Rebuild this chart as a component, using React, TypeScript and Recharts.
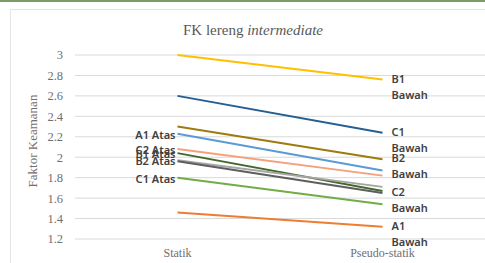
import React from "react";
import { LineChart, Line, XAxis, YAxis, CartesianGrid, Label } from "recharts";

const categories = ["Statik", "Pseudo-statik"];
const yTicks = [1.2, 1.4, 1.6, 1.8, 2, 2.2, 2.4, 2.6, 2.8, 3];

const seriesNames = [
  "B1 Bawah",
  "C1 Bawah",
  "B2 Bawah",
  "A1 Atas",
  "C2 Atas",
  "B1 Atas",
  "B2 Atas",
  "C2 Bawah",
  "C1 Atas",
  "A1 Bawah",
];
const statikValues = [3.0, 2.6, 2.3, 2.23, 2.08, 2.04, 1.97, 1.96, 1.8, 1.46];
const pseudoValues = [2.76, 2.24, 1.98, 1.87, 1.82, 1.67, 1.71, 1.65, 1.54, 1.32];
const seriesColors = [
  "#FFC000",
  "#255E91",
  "#9E7B0D",
  "#5B9BD5",
  "#F4A07A",
  "#43682B",
  "#A5A5A5",
  "#5E5E5E",
  "#70AD47",
  "#ED7D31",
];

const data = categories.map((c, i) => {
  const row: Record<string, any> = { name: c };
  seriesNames.forEach((s, k) => {
    row[s] = i === 0 ? statikValues[k] : pseudoValues[k];
  });
  return row;
});

const labelFont = {
  fontFamily: "'Noto Sans', sans-serif",
  fontSize: 11,
  fontWeight: 600,
  fill: "#404040",
};

const makeLabel = (name: string) => (props: any) => {
  const { x, y, index } = props;
  const isLeft = name.includes("Atas");
  if (isLeft && index === 0) {
    return (
      <text
        key={`l-${name}`}
        x={x - 2}
        y={y + 2}
        textAnchor="end"
        dominantBaseline="middle"
        {...labelFont}
      >
        {name}
      </text>
    );
  }
  if (!isLeft && index === 1) {
    const parts = name.split(" ");
    return (
      <text key={`r-${name}`} x={x + 9} y={y} dominantBaseline="middle" {...labelFont}>
        <tspan x={x + 9} dy={0}>
          {parts[0]}
        </tspan>
        <tspan x={x + 9} dy={16}>
          {parts[1]}
        </tspan>
      </text>
    );
  }
  return null;
};

export default function App() {
  return (
    <div
      style={{
        position: "absolute",
        left: 0,
        top: 0,
        width: 485,
        height: 263,
        background: "#fff",
        overflow: "hidden",
      }}
    >
      <div
        style={{
          position: "absolute",
          left: 0,
          top: 0,
          width: 485,
          height: 2,
          background: "#7d9b66",
        }}
      />
      <div
        style={{
          position: "absolute",
          left: 10,
          top: 9,
          width: 490,
          height: 270,
          border: "1px solid #e4e4e4",
          boxSizing: "border-box",
        }}
      />
      <div
        style={{
          position: "absolute",
          left: 0,
          top: 20,
          width: 506,
          textAlign: "center",
          fontFamily: "'Liberation Serif', serif",
          fontSize: 15,
          color: "#595959",
          lineHeight: "20px",
        }}
      >
        FK lereng <i>intermediate</i>
      </div>
      <div style={{ position: "absolute", left: 0, top: 0 }}>
        <LineChart
          width={485}
          height={263}
          data={data}
          margin={{ top: 55, right: 0, bottom: 0, left: 0 }}
        >
          <CartesianGrid vertical={false} stroke="#d9d9d9" strokeWidth={1} />
          <XAxis
            dataKey="name"
            axisLine={false}
            tickLine={false}
            tickSize={0}
            tickMargin={9}
            height={24}
            padding={{ left: 102.5, right: 102.5 }}
            tick={{
              fontFamily: "'Liberation Serif', serif",
              fontSize: 12,
              fill: "#6f6f6f",
            }}
          />
          <YAxis
            width={75}
            domain={[1.2, 3]}
            ticks={yTicks}
            interval={0}
            axisLine={false}
            tickLine={false}
            tickSize={0}
            tickMargin={12}
            tick={{
              fontFamily: "'Liberation Serif', serif",
              fontSize: 12.5,
              fill: "#6f6f6f",
            }}
          >
            <Label
              content={() => (
                <text
                  x={34}
                  y={141}
                  transform="rotate(-90 34 141)"
                  textAnchor="middle"
                  dominantBaseline="middle"
                  fontFamily="'Liberation Serif', serif"
                  fontSize={13}
                  fill="#6f6f6f"
                >
                  Faktor Keamanan
                </text>
              )}
            />
          </YAxis>
          {seriesNames.map((s, k) => (
            <Line
              key={s}
              dataKey={s}
              stroke={seriesColors[k]}
              strokeWidth={2}
              dot={false}
              isAnimationActive={false}
              label={makeLabel(s)}
            />
          ))}
        </LineChart>
      </div>
    </div>
  );
}
